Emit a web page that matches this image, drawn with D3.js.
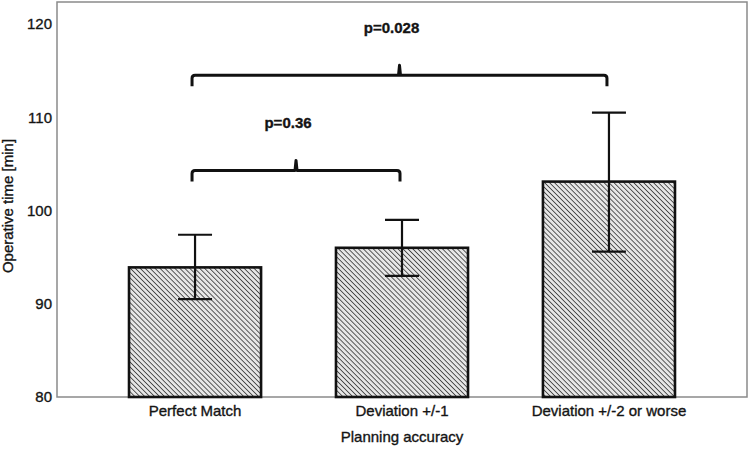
<!DOCTYPE html>
<html>
<head>
<meta charset="utf-8">
<script src="https://cdn.jsdelivr.net/npm/d3@7"></script>
<style>
  html, body { margin: 0; padding: 0; background: #fff; }
  svg { display: block; }
  text { font-family: "Liberation Sans", Arial, sans-serif; stroke: #141414; stroke-width: 0.35px; }
</style>
</head>
<body>
<svg id="chart" width="749" height="451"></svg>
<script>
// ---- data ----
const categories = ["Perfect Match", "Deviation +/-1", "Deviation +/-2 or worse"];
const means = [93.9, 96.0, 103.1];
const ciLow = [90.5, 93.0, 95.6];
const ciHigh = [97.4, 99.0, 110.5];
const yTicks = [80, 90, 100, 110, 120];
const comparisons = [
  { from: 0, to: 1, level: 104.3, label: "p=0.36" },
  { from: 0, to: 2, level: 114.5, label: "p=0.028" }
];
const yTitle = "Operative time [min]";
const xTitle = "Planning accuracy";

// ---- layout ----
const svg = d3.select("#chart");
const pL = 57, pR = 747, pT = 2, pB = 397;
const FS = 15;
const FILL = "#141414";

const x = d3.scaleBand().domain(categories).range([pL, pR])
  .paddingInner(0.362).paddingOuter(0.348);
const y = d3.scaleLinear().domain([80, 122.36]).range([pB, pT]);

// hatch pattern
const defs = svg.append("defs");
const pat = defs.append("pattern")
  .attr("id", "hatch").attr("patternUnits", "userSpaceOnUse")
  .attr("width", 3.5).attr("height", 3.5)
  .attr("patternTransform", "rotate(-45)");
pat.append("rect").attr("width", 3.5).attr("height", 3.5).attr("fill", "#e6e6e6");
pat.append("line").attr("x1", 0).attr("y1", 0).attr("x2", 0).attr("y2", 3.5)
  .attr("stroke", "#404040").attr("stroke-width", 1.7);

// frame
svg.append("rect").attr("x", pL).attr("y", pT)
  .attr("width", pR - pL).attr("height", pB - pT)
  .attr("fill", "none").attr("stroke", "#8a8a8a").attr("stroke-width", 1.5);

// y axis
const yAxis = d3.axisLeft(y).tickValues(yTicks).tickSize(0).tickPadding(5).tickFormat(d3.format("d"));
const gy = svg.append("g").attr("transform", `translate(${pL},0)`).call(yAxis);
gy.select(".domain").remove();
gy.selectAll("text").attr("font-size", FS).attr("fill", FILL)
  .attr("font-family", "Liberation Sans, Arial, sans-serif");

// x axis
const xAxis = d3.axisBottom(x).tickSize(0).tickPadding(8);
const gx = svg.append("g").attr("transform", `translate(0,${pB})`).call(xAxis);
gx.select(".domain").remove();
gx.selectAll("text").attr("font-size", FS).attr("fill", FILL)
  .attr("font-family", "Liberation Sans, Arial, sans-serif");

// bars
svg.append("g").selectAll("rect").data(categories).join("rect")
  .attr("x", d => x(d))
  .attr("y", (d, i) => y(means[i]))
  .attr("width", x.bandwidth())
  .attr("height", (d, i) => y(80) - y(means[i]))
  .attr("fill", "url(#hatch)")
  .attr("stroke", "#111").attr("stroke-width", 2.6);

// error bars
const cap = 17;
const eb = svg.append("g").attr("stroke", "#111").attr("stroke-width", 2.2);
categories.forEach((c, i) => {
  const cx = x(c) + x.bandwidth() / 2;
  eb.append("line").attr("x1", cx).attr("x2", cx).attr("y1", y(ciLow[i])).attr("y2", y(ciHigh[i]));
  eb.append("line").attr("x1", cx - cap).attr("x2", cx + cap).attr("y1", y(ciHigh[i])).attr("y2", y(ciHigh[i]));
  eb.append("line").attr("x1", cx - cap).attr("x2", cx + cap).attr("y1", y(ciLow[i])).attr("y2", y(ciLow[i]));
});

// comparison brackets
const br = svg.append("g");
comparisons.forEach(c => {
  const x1 = x(categories[c.from]) + x.bandwidth() / 2 - 3;
  const x2 = x(categories[c.to]) + x.bandwidth() / 2 - 2;
  const yy = y(c.level);
  const mid = (x1 + x2) / 2;
  const r = 3, drop = 11, nub = 10;
  const path = `M${x1},${yy + drop} L${x1},${yy + r} Q${x1},${yy} ${x1 + r},${yy}
    L${mid - 1},${yy} L${mid},${yy - nub} L${mid},${yy - nub} L${mid + 1},${yy}
    L${x2 - r},${yy} Q${x2},${yy} ${x2},${yy + r} L${x2},${yy + drop}`;
  br.append("path").attr("d", path).attr("fill", "none")
    .attr("stroke", "#111").attr("stroke-width", 3).attr("stroke-linejoin", "round");
  br.append("text").attr("x", mid - 8).attr("y", yy - 42)
    .attr("text-anchor", "middle").attr("font-size", FS).attr("font-weight", "bold")
    .attr("fill", FILL).text(c.label);
});

// axis titles
svg.append("text").attr("x", (pL + pR) / 2).attr("y", 442)
  .attr("text-anchor", "middle").attr("font-size", FS).attr("fill", FILL).text(xTitle);
svg.append("text")
  .attr("transform", `translate(13,206) rotate(-90)`)
  .attr("text-anchor", "middle").attr("font-size", FS).attr("fill", FILL).text(yTitle);
</script>
</body>
</html>
